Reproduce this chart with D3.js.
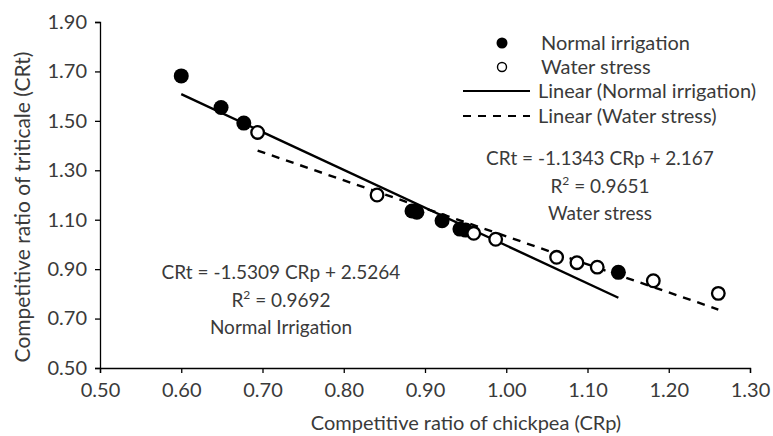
<!DOCTYPE html>
<html>
<head>
<meta charset="utf-8">
<script src="https://cdn.jsdelivr.net/npm/d3@7"></script>
<style>
    body { margin: 0; background: #fff; }
    svg text { font-family: Lato, "Open Sans", sans-serif; fill: #3a3a3a; }
</style>
</head>
<body>
<div id="chart"></div>
<script>
// data
const normalCRp = [0.600, 0.649, 0.677, 0.884, 0.890, 0.921, 0.943, 0.950, 1.138];
const normalCRt = [1.682, 1.554, 1.491, 1.135, 1.130, 1.096, 1.062, 1.058, 0.887];
const stressCRp = [0.694, 0.841, 0.960, 0.987, 1.062, 1.087, 1.112, 1.181, 1.261];
const stressCRt = [1.453, 1.200, 1.045, 1.021, 0.948, 0.926, 0.908, 0.853, 0.802];

const fits = [
    { name: "Normal irrigation", slope: -1.5309, intercept: 2.5264, dash: null },
    { name: "Water stress", slope: -1.1343, intercept: 2.167, dash: "8,7" }
];

const xTicks = [0.5, 0.6, 0.7, 0.8, 0.9, 1.0, 1.1, 1.2, 1.3];
const yTicks = [0.5, 0.7, 0.9, 1.1, 1.3, 1.5, 1.7, 1.9];

const width = 773, height = 436;
const margin = { left: 100, right: 23, top: 22, bottom: 68 };

const svg = d3.select("#chart").append("svg")
    .attr("width", width)
    .attr("height", height);

const x = d3.scaleLinear().domain([0.5, 1.3]).range([margin.left, width - margin.right]);
const y = d3.scaleLinear().domain([0.5, 1.9]).range([height - margin.bottom, margin.top]);

// axes
const xAxis = svg.append("g")
    .attr("transform", `translate(0,${height - margin.bottom})`)
    .call(d3.axisBottom(x).tickValues(xTicks).tickSizeOuter(0).tickSize(5).tickFormat(d3.format(".2f")));
const yAxis = svg.append("g")
    .attr("transform", `translate(${margin.left},0)`)
    .call(d3.axisLeft(y).tickValues(yTicks).tickSizeOuter(0).tickSize(5).tickFormat(d3.format(".2f")));

[xAxis, yAxis].forEach(a => {
    a.select(".domain").attr("stroke", "#000").attr("stroke-width", 1.3);
    a.selectAll(".tick line").attr("stroke", "#000").attr("stroke-width", 1.3);
    a.selectAll(".tick text").attr("font-size", 20).style("fill", "#3a3a3a");
});
xAxis.selectAll(".tick text").attr("y", 15).attr("dy", "0.71em");
yAxis.selectAll(".tick text").attr("x", -13);

// axis titles
svg.append("text")
    .attr("x", 466)
    .attr("y", height - 6)
    .attr("text-anchor", "middle")
    .attr("font-size", 20)
    .text("Competitive ratio of chickpea (CRp)");

svg.append("text")
    .attr("transform", "translate(30,207) rotate(-90)")
    .attr("text-anchor", "middle")
    .attr("font-size", 21)
    .text("Competitive ratio of triticale (CRt)");

// trend lines over each series range
const series = [
    { xs: normalCRp, ys: normalCRt, fit: fits[0], filled: true },
    { xs: stressCRp, ys: stressCRt, fit: fits[1], filled: false }
];

series.forEach(s => {
    const x0 = d3.min(s.xs), x1 = d3.max(s.xs);
    svg.append("line")
        .attr("x1", x(x0)).attr("y1", y(s.fit.slope * x0 + s.fit.intercept))
        .attr("x2", x(x1)).attr("y2", y(s.fit.slope * x1 + s.fit.intercept))
        .attr("stroke", "#000")
        .attr("stroke-width", 2.4)
        .attr("stroke-dasharray", s.fit.dash);
});

// points
series.forEach(s => {
    svg.append("g").selectAll("circle")
        .data(d3.zip(s.xs, s.ys))
        .enter()
        .append("circle")
        .attr("cx", d => x(d[0]))
        .attr("cy", d => y(d[1]))
        .attr("r", s.filled ? 7.5 : 6.3)
        .attr("fill", s.filled ? "#000" : "#fff")
        .attr("stroke", "#000")
        .attr("stroke-width", s.filled ? 0 : 2.3);
});

// legend
const legend = svg.append("g");
const rows = [43, 67, 91, 116];
legend.append("circle").attr("cx", 502).attr("cy", rows[0]).attr("r", 5.5).attr("fill", "#000");
legend.append("circle").attr("cx", 502).attr("cy", rows[1]).attr("r", 4.5).attr("fill", "#fff")
    .attr("stroke", "#000").attr("stroke-width", 1.4);
legend.append("line").attr("x1", 463).attr("x2", 530).attr("y1", rows[2]).attr("y2", rows[2])
    .attr("stroke", "#000").attr("stroke-width", 2.2);
legend.append("line").attr("x1", 463).attr("x2", 530).attr("y1", rows[3]).attr("y2", rows[3])
    .attr("stroke", "#000").attr("stroke-width", 2.2).attr("stroke-dasharray", "8,7");
const legendLabels = ["Normal irrigation", "Water stress", "Linear (Normal irrigation)", "Linear (Water stress)"];
legend.selectAll("text.leg")
    .data(legendLabels)
    .enter()
    .append("text")
    .attr("class", "leg")
    .attr("x", (d, i) => i < 2 ? 541 : 538)
    .attr("y", (d, i) => rows[i])
    .attr("dy", "0.36em")
    .attr("font-size", 20)
    .text(d => d);

// equation annotations
function annotate(cx, cy, eq, r2, label) {
    const g = svg.append("g").attr("text-anchor", "middle").attr("font-size", 19);
    g.append("text").attr("x", cx).attr("y", cy).text(eq);
    const t = g.append("text").attr("x", cx).attr("y", cy + 27.5);
    t.append("tspan").text("R");
    t.append("tspan").attr("font-size", 12).attr("dy", -8).text("2");
    t.append("tspan").attr("dy", 8).text(" = " + r2);
    g.append("text").attr("x", cx).attr("y", cy + 55).text(label);
}
annotate(600, 165, "CRt = -1.1343 CRp + 2.167", "0.9651", "Water stress");
annotate(281, 279, "CRt = -1.5309 CRp + 2.5264", "0.9692", "Normal Irrigation");
</script>
</body>
</html>
